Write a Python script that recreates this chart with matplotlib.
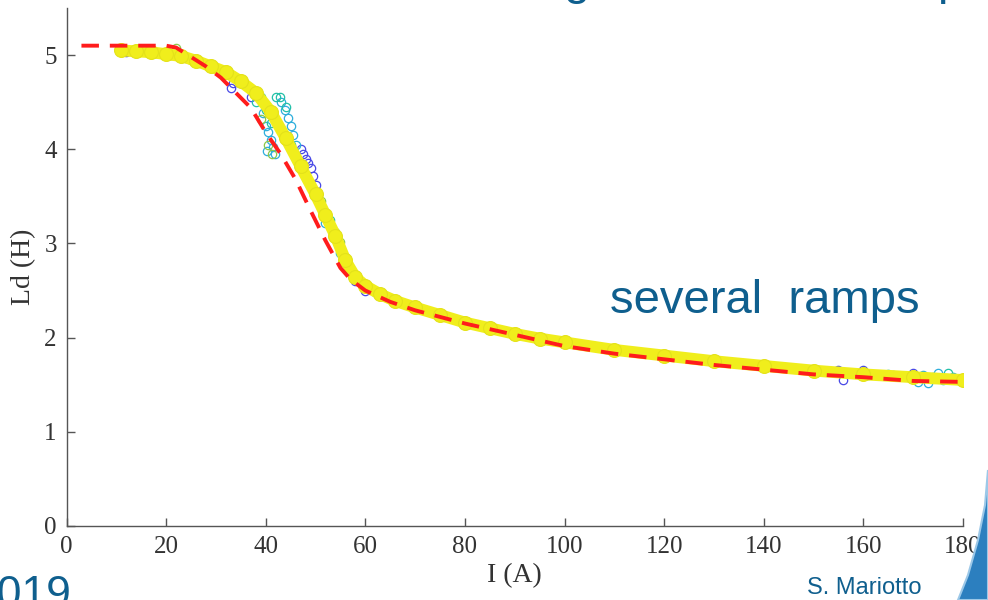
import matplotlib
matplotlib.use("Agg")
import matplotlib.pyplot as plt
from matplotlib.patches import Polygon

# ---------------- data ----------------
# fitted curve (red dashed)
fit_I = [3, 10, 15, 20, 22, 25, 28, 31, 34, 37, 40, 43, 46, 49, 52, 55, 57, 60,
         65, 70, 75, 80, 90, 100, 110, 120, 130, 140, 150, 160, 170, 180]
fit_L = [5.10, 5.10, 5.10, 5.10, 5.08, 4.98, 4.88, 4.76, 4.60, 4.44, 4.18, 3.95,
         3.68, 3.35, 3.03, 2.74, 2.62, 2.50, 2.38, 2.29, 2.22, 2.15, 2.03, 1.91,
         1.83, 1.77, 1.71, 1.66, 1.61, 1.58, 1.54, 1.53]

# main (yellow) ramp
main_I = [11, 14, 17, 20, 23, 26, 29, 32, 35, 38, 41, 44, 47, 50, 52, 54, 56, 58,
          60, 63, 66, 70, 75, 80, 85, 90, 95, 100, 110, 120, 130, 140, 150, 160,
          170, 180]
main_L = [5.05, 5.04, 5.03, 5.01, 4.99, 4.94, 4.88, 4.82, 4.72, 4.60, 4.40, 4.12,
          3.82, 3.52, 3.30, 3.08, 2.82, 2.64, 2.55, 2.46, 2.39, 2.32, 2.24, 2.16,
          2.10, 2.04, 1.99, 1.95, 1.87, 1.81, 1.75, 1.70, 1.65, 1.61, 1.58, 1.55]

# other ramps (open circles)
blue_I = [12, 15, 18, 21, 24, 30, 33, 33.5, 37, 47, 47.5, 48, 48.5, 49, 49.5, 50,
          52, 54, 56, 57, 58, 60, 66, 75, 88, 95, 110, 125, 130, 140, 150, 155,
          156, 158, 160, 166, 170, 172]
blue_L = [5.03, 5.05, 5.02, 5.00, 4.97, 4.86, 4.65, 4.70, 4.55, 4.00, 3.95, 3.90,
          3.85, 3.80, 3.72, 3.62, 3.28, 3.06, 2.86, 2.72, 2.60, 2.50, 2.40, 2.25,
          2.07, 2.00, 1.86, 1.78, 1.77, 1.72, 1.63, 1.66, 1.55, 1.62, 1.66, 1.60,
          1.62, 1.58]

cyan_I = [39.5, 40, 40.5, 41, 41.5, 40.2, 41.8, 43, 43.8, 44.5, 45, 45.5, 46,
          52, 55, 65, 100, 160, 161, 170, 171, 172, 173, 174, 175, 176, 178]
cyan_L = [4.38, 4.25, 4.18, 4.10, 4.02, 3.98, 3.95, 4.50, 4.42, 4.33, 4.25, 4.15,
          4.05, 3.22, 2.90, 2.42, 1.95, 1.64, 1.60, 1.56, 1.53, 1.60, 1.52, 1.58,
          1.62, 1.55, 1.58]

teal_I = [38, 39, 40, 41, 42, 42.8, 44, 45, 53, 62, 120, 165, 177]
teal_L = [4.50, 4.56, 4.42, 4.28, 4.55, 4.55, 4.45, 4.05, 3.25, 2.48, 1.82, 1.61,
          1.62]

green_I = [22, 25, 39, 40.5, 41.2, 51, 54, 55]
green_L = [5.08, 4.95, 4.32, 4.05, 3.95, 3.45, 3.12, 3.02]

x_ticks = [0, 20, 40, 60, 80, 100, 120, 140, 160, 180]
y_ticks = [0, 1, 2, 3, 4, 5]

# ---------------- figure ----------------
W, H = 988, 600
fig = plt.figure(figsize=(W / 100, H / 100), dpi=100)
fig.patch.set_facecolor("white")

ax = fig.add_axes([66.5 / W, 74 / H, (963 - 66.5) / W, (526 - 8) / H])
ax.set_xlim(0, 180)
ax.set_ylim(0, 5.5)

mk = dict(marker="o", linestyle="none", markerfacecolor="none",
          markersize=6, markeredgewidth=0.9)
ax.plot(blue_I, blue_L, markeredgecolor="#4848e6", **mk)
ax.plot(cyan_I, cyan_L, markeredgecolor="#2eaedc", **mk)
ax.plot(teal_I, teal_L, markeredgecolor="#22c0a8", **mk)
ax.plot(green_I, green_L, markeredgecolor="#8cc84a", **mk)

ax.plot(main_I, main_L, color="#f0ee1c", linewidth=8.5, solid_capstyle="round",
        marker="o", markersize=10, markerfacecolor="#f0ee1c",
        markeredgecolor="#e4e21a", markeredgewidth=0.8)

ax.plot(fit_I, fit_L, color="#ff1c1c", linewidth=2.8, linestyle=(0, (4.5, 2.8)))

for s in ["top", "right"]:
    ax.spines[s].set_visible(False)
for s in ["left", "bottom"]:
    ax.spines[s].set_color("#555555")
    ax.spines[s].set_linewidth(1.0)

serif = ["Liberation Serif", "DejaVu Serif"]
ax.set_xticks(x_ticks)
ax.set_yticks(y_ticks)
ax.tick_params(direction="in", length=6, width=1.0, color="#555555",
               labelsize=18, labelcolor="#333333", pad=7)
for lab in ax.get_xticklabels() + ax.get_yticklabels():
    lab.set_family(serif)

ax.set_xlabel("I (A)", family=serif, fontsize=20, color="#333333", labelpad=4)
ax.set_ylabel("Ld (H)", family=serif, fontsize=20, color="#333333", labelpad=6)

blue = "#0f5f8e"
sans = ["Liberation Sans", "DejaVu Sans"]
fig.text(610 / W, 1 - 313 / H, "several  ramps", family=sans, fontsize=34,
         color=blue, ha="left", va="baseline")
fig.text(72 / W, 1 - 607 / H, "2019", family=sans, fontsize=32, color=blue,
         ha="right", va="baseline")
fig.text(807 / W, 1 - 594 / H, "S. Mariotto", family=sans, fontsize=17,
         color=blue, ha="left", va="baseline")
# fragments of the slide title cut by the top edge
fig.text(577 / W, 1 + 6 / H, "g", family=sans, fontsize=34, color=blue,
         ha="center", va="baseline")
fig.text(950 / W, 1 + 6 / H, "p", family=sans, fontsize=34, color=blue,
         ha="center", va="baseline")

# decorative swoosh at bottom right
pts = [(988, 470), (985, 505), (978, 540), (968, 575), (958, 600), (988, 600)]
fig.patches.append(Polygon([(x / W, 1 - y / H) for x, y in pts], closed=True,
                           transform=fig.transFigure, facecolor="#2c7fbf",
                           edgecolor="#9cc8e8", linewidth=1.5, zorder=0))

fig.savefig("out.png", dpi=100, facecolor="white")
